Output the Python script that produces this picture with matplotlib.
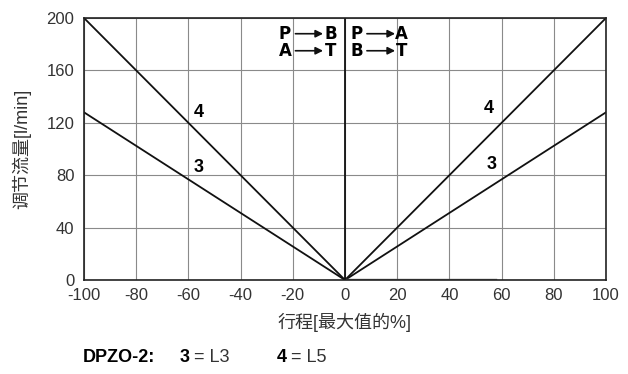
import numpy as np
import matplotlib
matplotlib.use('Agg')
import matplotlib.pyplot as plt

plt.rcParams['font.family'] = ['Liberation Sans', 'Noto Sans CJK SC', 'DejaVu Sans']
plt.rcParams['axes.unicode_minus'] = False

# stroke [% of max] and regulated flow [l/min] for each spool
stroke = [-100, 0, 100]
flow_l5 = [200, 0, 200]   # curve 4
flow_l3 = [128, 0, 128]   # curve 3
leak_x = [0, 58]
leak_y = [0.8, 0.8]

x_ticks = [-100, -80, -60, -40, -20, 0, 20, 40, 60, 80, 100]
y_ticks = [0, 40, 80, 120, 160, 200]

fig = plt.figure(figsize=(6.28, 3.74), dpi=100)
ax = fig.add_axes([84 / 628, 1 - 280 / 374, 522 / 628, 262 / 374])

ax.set_xlim(-100, 100)
ax.set_ylim(0, 200)
ax.set_xticks(x_ticks)
ax.set_yticks(y_ticks)
ax.grid(True, color='#8a8a8a', linewidth=0.8)
ax.set_axisbelow(True)
ax.tick_params(length=0, labelsize=12, colors='#333333')
ax.tick_params(axis='x', pad=6)
ax.tick_params(axis='y', pad=7)
for s in ax.spines.values():
    s.set_color('#222222')
    s.set_linewidth(1.2)

ax.plot(stroke, flow_l5, color='#111111', lw=1.3)
ax.plot(stroke, flow_l3, color='#111111', lw=1.3)
ax.plot(leak_x, leak_y, color='#666666', lw=1.0)
ax.axvline(0, color='#111111', lw=1.3)

# curve numbers
for x, y, t in [(-56, 128, '4'), (-56, 86, '3'), (55, 131, '4'), (56, 88, '3')]:
    ax.text(x, y, t, fontsize=13, fontweight='bold', ha='center', va='center')

# flow direction notes: letters either side of an arrow
notes = [(-23, -19, -8.4, -5.6, 'P', 'B', 'A', 'T'),
         (4.6, 8.4, 19.2, 21.6, 'P', 'A', 'B', 'T')]
rows = [188, 175]
narrow = ['Liberation Sans Narrow', 'DejaVu Sans']
for xl, a0, a1, xr, l1, r1, l2, r2 in notes:
    for y, l, r in [(rows[0], l1, r1), (rows[1], l2, r2)]:
        ax.text(xl, y, l, fontsize=12, fontweight='bold', ha='center',
                va='center', family=narrow)
        ax.text(xr, y, r, fontsize=12, fontweight='bold', ha='center',
                va='center', family=narrow)
        ax.annotate('', xy=(a1, y), xytext=(a0, y),
                    arrowprops=dict(arrowstyle='-|>', color='#111111', lw=1.2,
                                    mutation_scale=11, shrinkA=0, shrinkB=0))

ax.set_ylabel('调节流量[l/min]', fontsize=13, color='#333333', labelpad=11)
ax.set_xlabel('行程[最大值的%]', fontsize=13, color='#333333', labelpad=7)

fy = 1 - 358 / 374
fig.text(83 / 628, fy, 'DPZO-2:', fontsize=13, fontweight='bold', va='center')
fig.text(180 / 628, fy, '3', fontsize=13, fontweight='bold', va='center')
fig.text(194 / 628, fy, '= L3', fontsize=13, va='center', color='#333333')
fig.text(277 / 628, fy, '4', fontsize=13, fontweight='bold', va='center')
fig.text(291 / 628, fy, '= L5', fontsize=13, va='center', color='#333333')

fig.savefig('out.png', dpi=100)
